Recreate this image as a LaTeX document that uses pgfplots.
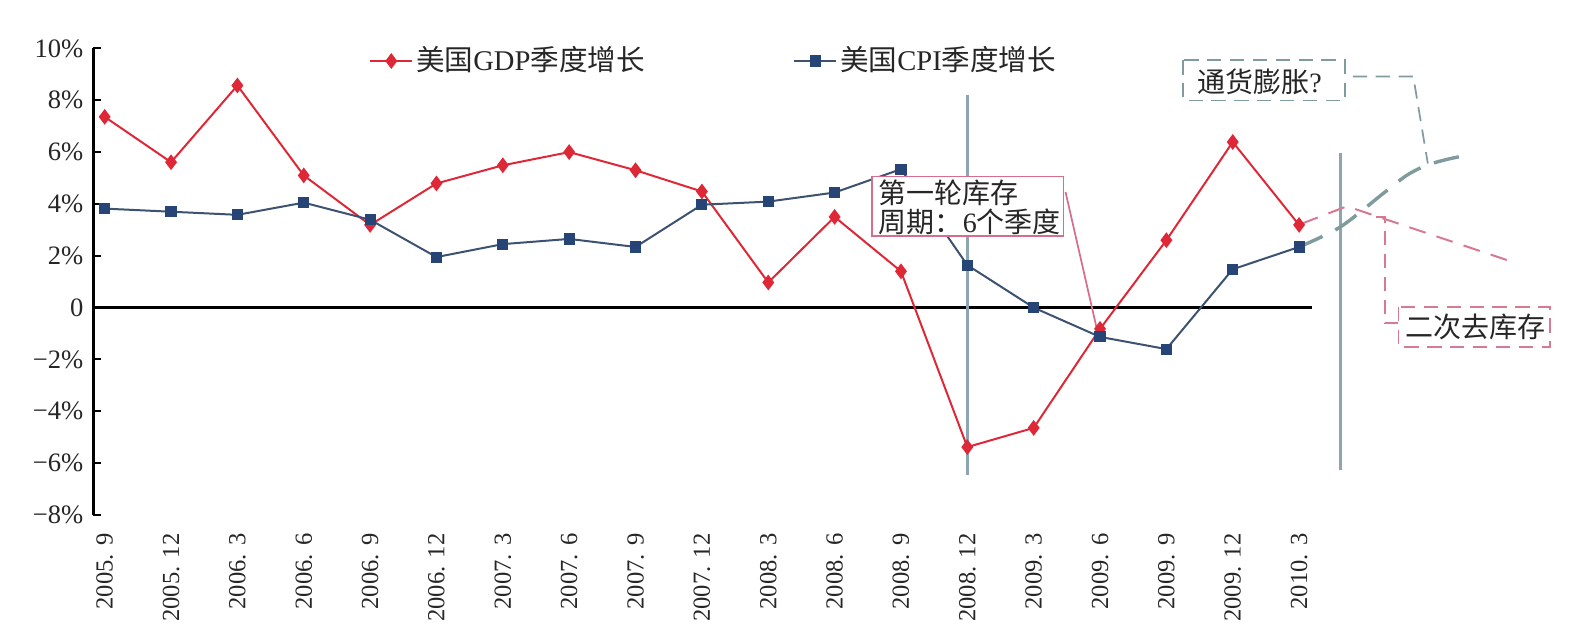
\documentclass[border=0pt]{standalone}
\usepackage{pgfplots}
\pgfplotsset{compat=1.18}
\usepackage{fontspec}
\setmainfont{Liberation Serif}
\newfontfamily\cjk{Noto Sans CJK SC}

\definecolor{gdpred}{RGB}{222,40,55}
\definecolor{cpiline}{RGB}{60,82,112}
\definecolor{cpimark}{RGB}{38,68,118}
\definecolor{vline}{RGB}{140,165,178}
\definecolor{tealg}{RGB}{128,155,158}
\definecolor{pinkd}{RGB}{214,122,145}
\definecolor{pinkbox}{RGB}{214,110,138}

\begin{document}
\begin{tikzpicture}
\useasboundingbox (-32.7pt,-43.4pt) rectangle (522.4pt,180.25pt);
\begin{axis}[
 at={(0pt,0pt)}, anchor=south west,
 scale only axis, width=426.4pt, height=163.3pt,
 xmin=-0.17, xmax=18.19, ymin=-8, ymax=10,
 clip=false,
 axis x line*=bottom, axis y line*=left,
 x axis line style={draw=none},
 y axis line style={line width=0.9pt, black, -},
 xtick={0,...,18},
 xticklabels={2005. 9,2005. 12,2006. 3,2006. 6,2006. 9,2006. 12,2007. 3,2007. 6,2007. 9,2007. 12,2008. 3,2008. 6,2008. 9,2008. 12,2009. 3,2009. 6,2009. 9,2009. 12,2010. 3},
 xticklabel style={yshift=-3pt, rotate=90, anchor=east, font=\fontsize{8.6}{9}\selectfont, text=black!85},
 xtick style={draw=none},
 xtick pos=bottom, xticklabel pos=bottom,
 ytick={-8,-6,...,10},
 yticklabels={−8\%,−6\%,−4\%,−2\%,0,2\%,4\%,6\%,8\%,10\%},
 yticklabel style={font=\fontsize{9.3}{10}\selectfont, text=black!85},
 ytick style={line width=0.7pt, black},
 ytick pos=left, yticklabel pos=left,
 tick align=inside, major tick length=2.8pt,
 legend style={at={(0.226,0.973)}, anchor=west, draw=none, fill=none, inner sep=0pt,
   nodes={inner sep=1pt},
   font=\fontsize{10}{11}\selectfont, text=black!85,
   /tikz/every even column/.append style={column sep=51pt}},
 legend columns=2, legend cell align=left,
 legend image code/.code={\draw[mark repeat=2,mark phase=2,#1] plot coordinates {(0pt,0pt) (7.35pt,0pt) (14.7pt,0pt)};},
]
% zero line
\addplot[black, line width=0.8pt, forget plot] coordinates {(-0.17,0) (18.19,0)};
% vertical separators
\addplot[vline, line width=0.9pt, forget plot] coordinates {(13,8.19) (13,-6.47)};
\addplot[vline, line width=0.9pt, forget plot] coordinates {(18.62,5.96) (18.62,-6.27)};
% projections
\addplot[pinkd, line width=0.7pt, dash pattern=on 6pt off 4pt, forget plot] coordinates {(18.04,3.24) (18.72,3.91) (21.15,1.82)};
\addplot[tealg, line width=1.2pt, dash pattern=on 9pt off 5pt, smooth, forget plot] coordinates {(18,2.34) (18.62,3.11) (19.27,4.41) (19.62,5.10) (19.92,5.49) (20.28,5.75) (20.62,5.91)};
% series
\addplot[gdpred, line width=0.7pt, mark=diamond*, mark size=2.2pt, mark options={fill=gdpred, draw=gdpred, solid}] coordinates {
(0,7.36) (1,5.61) (2,8.57) (3,5.10) (4,3.19) (5,4.79) (6,5.49) (7,6.00) (8,5.30) (9,4.48) (10,0.97) (11,3.50) (12,1.40) (13,-5.38) (14,-4.64) (15,-0.82) (16,2.60) (17,6.39) (18,3.19)};
\addlegendentry{{\cjk 美国}GDP{\cjk 季度增长}}
\addplot[cpiline, line width=0.7pt, mark=square*, mark size=1.6pt, mark options={fill=cpimark, draw=cpimark, solid}] coordinates {
(0,3.82) (1,3.70) (2,3.58) (3,4.05) (4,3.39) (5,1.95) (6,2.45) (7,2.65) (8,2.34) (9,3.97) (10,4.09) (11,4.44) (12,5.34) (13,1.64) (14,0.00) (15,-1.13) (16,-1.60) (17,1.48) (18,2.34)};
\addlegendentry{{\cjk 美国}CPI{\cjk 季度增长}}
% callout 1
\draw[pinkbox, line width=0.6pt, fill=white] (axis cs:11.56,5.06) rectangle (axis cs:14.45,2.75);
\node[anchor=west, inner sep=0pt, font=\fontsize{9.8}{11}\selectfont, text=black!85] at (axis cs:11.66,4.41) {\cjk 第一轮库存};
\node[anchor=west, inner sep=0pt, font=\fontsize{9.8}{11}\selectfont, text=black!85] at (axis cs:11.66,3.29) {{\cjk 周期：}6{\cjk 个季度}};
\draw[pinkbox, line width=0.6pt] (axis cs:14.48,4.46) -- (axis cs:14.95,-0.80);
% callout 2
\draw[tealg, line width=0.6pt, dash pattern=on 5pt off 3pt] (axis cs:16.25,9.54) rectangle (axis cs:18.69,7.99);
\node[anchor=west, inner sep=0pt, font=\fontsize{9.8}{11}\selectfont, text=black!85] at (axis cs:16.46,8.70) {{\cjk 通货膨胀}?};
\draw[tealg, line width=0.6pt, dash pattern=on 5pt off 3pt] (axis cs:18.81,8.92) -- (axis cs:19.72,8.92) -- (axis cs:19.94,5.56);
% callout 3
\draw[pinkd, line width=0.6pt, dash pattern=on 5pt off 3pt] (axis cs:19.50,0.02) rectangle (axis cs:21.78,-1.52);
\node[anchor=west, inner sep=0pt, font=\fontsize{9.8}{11}\selectfont, text=black!85] at (axis cs:19.60,-0.75) {\cjk 二次去库存};
\draw[pinkd, line width=0.6pt, dash pattern=on 5pt off 3pt] (axis cs:19.16,3.50) -- (axis cs:19.29,3.50) -- (axis cs:19.29,-0.6) -- (axis cs:19.5,-0.6);
\end{axis}
\end{tikzpicture}
\end{document}
